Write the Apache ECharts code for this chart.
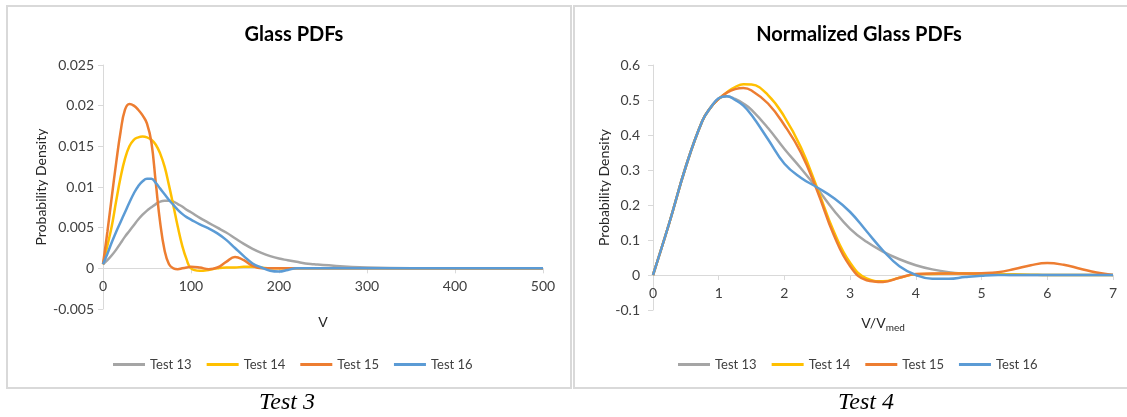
<!DOCTYPE html>
<html>
<head>
<meta charset="utf-8">
<script src="https://cdn.jsdelivr.net/npm/echarts@6/dist/echarts.min.js"></script>
<style>
  html, body { margin: 0; padding: 0; background: #ffffff; }
  #chart { width: 1127px; height: 417px; }
</style>
</head>
<body>
<div id="chart"></div>
<script>
// ---- Glass PDFs (volume V) ----
const vValues = [0, 5, 10, 15, 20, 25, 30, 35, 40, 45, 50, 55, 60, 65, 70, 75, 80, 85, 90, 95, 100,
  110, 120, 130, 140, 150, 160, 170, 180, 190, 200, 210, 220, 230, 240, 250, 300, 350, 400, 450, 500];
const pdfTest13 = [0.0005, 0.0010, 0.0016, 0.0023, 0.0031, 0.0039, 0.0046, 0.0053, 0.0060, 0.0066, 0.0071, 0.0075, 0.0079, 0.0082, 0.0083, 0.0083, 0.0082, 0.0079, 0.0076, 0.0072, 0.0069,
  0.0062, 0.0056, 0.0050, 0.0044, 0.0037, 0.0030, 0.0024, 0.0019, 0.0015, 0.0012, 0.0010, 0.0008, 0.0006, 0.0005, 0.0004, 0.0001, 0, 0, 0, 0];
const pdfTest14 = [0.0005, 0.0028, 0.0052, 0.0083, 0.0112, 0.0135, 0.0150, 0.0158, 0.0161, 0.0162, 0.0161, 0.0158, 0.0152, 0.0141, 0.0125, 0.0102, 0.0077, 0.0051, 0.0028, 0.0011, 0.0000,
  -0.0003, -0.0002, 0.0000, 0.0001, 0.0001, 0.0002, 0.0002, 0.0001, 0, 0, 0, 0, 0, 0, 0, 0, 0, 0, 0, 0];
const pdfTest15 = [0.0005, 0.0045, 0.0088, 0.0130, 0.0168, 0.0195, 0.0202, 0.0200, 0.0195, 0.0188, 0.0178, 0.0155, 0.0105, 0.0056, 0.0022, 0.0005, 0.0000, -0.0001, 0.0000, 0.0001, 0.0002,
  0.0001, -0.0001, 0.0001, 0.0008, 0.0014, 0.0010, 0.0003, 0, 0, 0, 0, 0, 0, 0, 0, 0, 0, 0, 0, 0];
const pdfTest16 = [0.0005, 0.0018, 0.0032, 0.0045, 0.0057, 0.0069, 0.0081, 0.0092, 0.0101, 0.0107, 0.0110, 0.0110, 0.0105, 0.0098, 0.0091, 0.0084, 0.0078, 0.0072, 0.0067, 0.0063, 0.0060,
  0.0054, 0.0049, 0.0043, 0.0035, 0.0025, 0.0015, 0.0006, 0.0001, -0.0003, -0.0004, -0.0002, 0, 0, 0, 0, 0, 0, 0, 0, 0];

// ---- Normalized Glass PDFs (V / V_med) ----
const uValues = [0, 0.25, 0.5, 0.75, 0.875, 1, 1.125, 1.25, 1.375, 1.5, 1.75, 2, 2.25, 2.5, 2.75, 3, 3.25, 3.5, 3.75, 4,
  4.25, 4.5, 4.75, 5, 5.25, 5.5, 5.75, 6, 6.25, 6.5, 6.75, 7];
const normTest13 = [0, 0.15, 0.31, 0.44, 0.478, 0.505, 0.511, 0.503, 0.490, 0.472, 0.420, 0.360, 0.305, 0.247, 0.185, 0.132, 0.095, 0.067, 0.045, 0.028,
  0.016, 0.008, 0.004, 0.002, 0.001, 0, 0, 0, 0, 0, 0, 0];
const normTest14 = [0, 0.15, 0.31, 0.44, 0.478, 0.503, 0.522, 0.537, 0.545, 0.544, 0.514, 0.452, 0.365, 0.248, 0.125, 0.035, -0.010, -0.018, -0.008, 0.002,
  0.003, 0.004, 0.004, 0.004, 0.003, 0.002, 0.001, 0, 0, 0, 0, 0];
const normTest15 = [0, 0.15, 0.31, 0.44, 0.478, 0.503, 0.521, 0.531, 0.534, 0.527, 0.490, 0.428, 0.350, 0.240, 0.115, 0.025, -0.015, -0.020, -0.008, 0.003,
  0.004, 0.004, 0.004, 0.005, 0.008, 0.017, 0.028, 0.034, 0.029, 0.018, 0.007, 0];
const normTest16 = [0, 0.15, 0.31, 0.44, 0.478, 0.505, 0.511, 0.500, 0.484, 0.457, 0.388, 0.318, 0.278, 0.250, 0.220, 0.180, 0.125, 0.070, 0.025, 0.000,
  -0.011, -0.011, -0.006, -0.002, 0, 0, 0, 0, 0, 0, 0, 0];

const seriesNames = ['Test 13', 'Test 14', 'Test 15', 'Test 16'];
const seriesColors = ['#A5A5A5', '#FFC000', '#ED7D31', '#5B9BD5'];

const FONT = 'Lato, "Open Sans", "Liberation Sans", sans-serif';
const AXIS_GRAY = '#d9d9d9';
const LABEL_COLOR = '#404040';

function pairs(xs, ys) { return xs.map((x, i) => [x, ys[i]]); }
function fmt(v) { return String(+v.toFixed(3)); }

function lineSeries(name, color, data, idx) {
  return {
    name: name, type: 'line', xAxisIndex: idx, yAxisIndex: idx,
    data: data, smooth: 0.45, symbol: 'none', showSymbol: false,
    lineStyle: { color: color, width: 2.5 }, itemStyle: { color: color },
    emphasis: { disabled: true }, animation: false
  };
}

// x axes sit on the zero line: shift them up from the grid bottom by the zero offset
function valueXAxis(idx, max, interval, name, gap, offset, extra) {
  return Object.assign({
    type: 'value', gridIndex: idx, min: 0, max: max, interval: interval,
    position: 'bottom', offset: offset,
    name: name, nameLocation: 'middle', nameGap: gap,
    nameTextStyle: { fontFamily: FONT, fontSize: 14, color: '#262626' },
    axisLine: { onZero: false, lineStyle: { color: AXIS_GRAY, width: 1 } },
    axisTick: { show: true, length: 5, lineStyle: { color: AXIS_GRAY } },
    axisLabel: { fontFamily: FONT, fontSize: 14, color: LABEL_COLOR, margin: 11, formatter: fmt },
    splitLine: { show: false }
  }, extra || {});
}

function valueYAxis(idx, min, max, interval, gap, labelMargin) {
  return {
    type: 'value', gridIndex: idx, min: min, max: max, interval: interval,
    name: 'Probability Density', nameLocation: 'middle', nameGap: gap, nameRotate: 90,
    nameTextStyle: { fontFamily: FONT, fontSize: 14, color: '#262626' },
    axisLine: { show: true, lineStyle: { color: AXIS_GRAY, width: 1 } },
    axisTick: { show: true, length: 5, lineStyle: { color: AXIS_GRAY } },
    axisLabel: { fontFamily: FONT, fontSize: 14, color: LABEL_COLOR, margin: labelMargin, formatter: fmt },
    splitLine: { show: false }
  };
}

const leftSets = [pdfTest13, pdfTest14, pdfTest15, pdfTest16];
const rightSets = [normTest13, normTest14, normTest15, normTest16];

const series = [];
leftSets.forEach((ys, i) => series.push(lineSeries(seriesNames[i], seriesColors[i], pairs(vValues, ys), 0)));
rightSets.forEach((ys, i) => series.push(lineSeries(seriesNames[i], seriesColors[i], pairs(uValues, ys), 1)));

function legendAt(left) {
  return {
    data: seriesNames, left: left, top: 358, orient: 'horizontal', padding: 0,
    icon: 'rect', itemWidth: 32, itemHeight: 3, itemGap: 15,
    textStyle: { fontFamily: FONT, fontSize: 13, color: LABEL_COLOR },
    selectedMode: false
  };
}

// grid geometry
const leftGrid = { left: 103, top: 65, width: 440, height: 244 };
const rightGrid = { left: 653, top: 65, width: 460, height: 245 };
// distance of the zero line above the grid bottom
const leftZeroOffset = -(leftGrid.height * 0.005 / 0.030);
const rightZeroOffset = -(rightGrid.height * 0.1 / 0.7);

const chart = echarts.init(document.getElementById('chart'), null, { renderer: 'canvas' });
chart.setOption({
  backgroundColor: '#ffffff',
  animation: false,
  title: [
    { text: 'Glass PDFs', left: 289, top: 20, textAlign: 'center',
      textStyle: { fontFamily: FONT, fontSize: 20, fontWeight: 'bold', color: '#000000' } },
    { text: 'Normalized Glass PDFs', left: 854, top: 20, textAlign: 'center',
      textStyle: { fontFamily: FONT, fontSize: 20, fontWeight: 'bold', color: '#000000' } },
    { text: 'Test 3', left: 282, top: 386, textAlign: 'center',
      textStyle: { fontFamily: '"Liberation Serif", "DejaVu Serif", serif', fontSize: 24, fontStyle: 'italic', fontWeight: 'normal', color: '#000000' } },
    { text: 'Test 4', left: 861, top: 386, textAlign: 'center',
      textStyle: { fontFamily: '"Liberation Serif", "DejaVu Serif", serif', fontSize: 24, fontStyle: 'italic', fontWeight: 'normal', color: '#000000' } }
  ],
  legend: [legendAt(113), legendAt(678)],
  grid: [
    Object.assign({ containLabel: false }, leftGrid),
    Object.assign({ containLabel: false }, rightGrid)
  ],
  xAxis: [
    valueXAxis(0, 500, 100, 'V', 47, leftZeroOffset),
    valueXAxis(1, 7, 1, '{a|V/V}{b|med}', 41, rightZeroOffset, {
      nameTextStyle: {
        fontFamily: FONT, fontSize: 14, color: '#262626',
        rich: {
          a: { fontFamily: FONT, fontSize: 14, color: '#262626', lineHeight: 16, verticalAlign: 'top' },
          b: { fontFamily: FONT, fontSize: 10, color: '#262626', lineHeight: 10, padding: [7, 0, 0, 0], verticalAlign: 'top' }
        }
      }
    })
  ],
  yAxis: [
    valueYAxis(0, -0.005, 0.025, 0.005, 55, 9),
    valueYAxis(1, -0.1, 0.6, 0.1, 42, 13)
  ],
  graphic: [
    { type: 'rect', silent: true, z: -10, shape: { x: 7, y: 6, width: 564, height: 382 },
      style: { fill: 'none', stroke: AXIS_GRAY, lineWidth: 2 } },
    { type: 'rect', silent: true, z: -10, shape: { x: 574, y: 6, width: 600, height: 382 },
      style: { fill: 'none', stroke: AXIS_GRAY, lineWidth: 2 } }
  ],
  series: series
});
</script>
</body>
</html>
